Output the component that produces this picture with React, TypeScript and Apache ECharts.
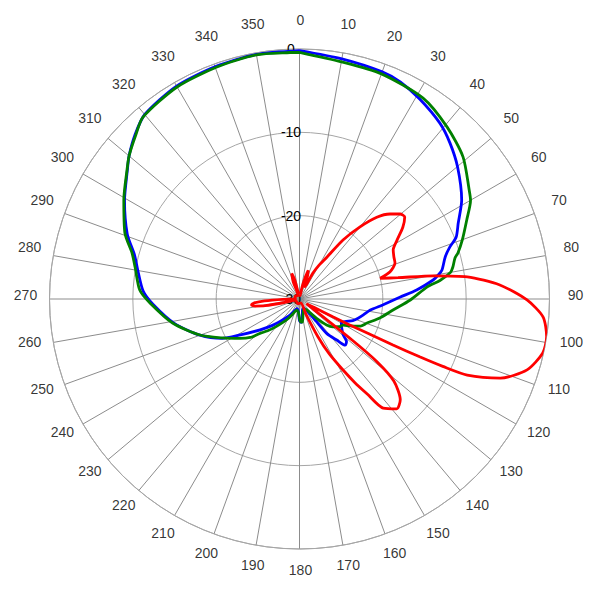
import React, { useEffect, useRef } from "react";
import * as echarts from "echarts";

// Angle axis (degrees, clockwise from top) and radial axis (dB)
const angleMin = 0;
const angleMax = 360;
const angleStep = 10;
const angleTickLabels = [0, 10, 20, 30, 40, 50, 60, 70, 80, 90, 100, 110, 120, 130, 140, 150, 160, 170, 180, 190, 200, 210, 220, 230, 240, 250, 260, 270, 280, 290, 300, 310, 320, 330, 340, 350];
const dbMin = -30;
const dbMax = 0;
const dbStep = 10;

// Blue trace
const blueAngles = [0, 10, 20, 25, 31, 38.6, 44, 50.2, 58.6, 64.5, 68.5, 70.9, 73.9, 78.5, 80.2, 81.9, 85.6, 88.9, 94.1, 98.9, 104, 108.2, 112, 116.5, 120, 125, 129.4, 132.1, 135.3, 137.8, 141.6, 143, 147, 155, 165, 172, 176, 180, 185, 195, 205, 212, 220, 226, 232, 238.8, 243, 250, 259, 268, 273, 280, 285, 290.7, 299.4, 306.8, 310, 315, 320, 330, 340, 350, 360];
const blueValues = [-0.2, -0.75, -1.0, -1.3, -2.0, -3.0, -4.0, -5.3, -7.2, -8.9, -9.8, -10.9, -11.8, -12.55, -13.1, -13.8, -15.9, -17.9, -20.0, -21.4, -22.1, -22.6, -23.1, -23.9, -24.2, -23.8, -23.2, -22.4, -22.2, -23.35, -24.7, -26.6, -28.2, -28.8, -28.6, -27.6, -27.2, -27.4, -28.5, -28.8, -28.3, -27.6, -26.6, -25.4, -24.0, -21.7, -19.6, -17.3, -14.7, -12.4, -11.2, -10.3, -9.5, -7.9, -5.9, -4.2, -3.3, -2.1, -1.1, -0.5, -0.35, -0.2, -0.2];

// Green trace
const greenAngles = [0, 10, 20, 31.6, 40.6, 49, 57.3, 60, 64.7, 70, 73.8, 75.2, 78.2, 80, 82.5, 84.6, 90.5, 96.7, 103.3, 109.6, 114, 117.9, 120.9, 125, 129.9, 133.7, 138.3, 143, 150, 160, 168, 173, 178, 185, 195, 203.4, 210, 215, 220.5, 225, 229, 232, 236.6, 243, 250.1, 259.3, 268.5, 273.2, 281, 285.4, 290.7, 299.4, 306.8, 310, 315, 319.3, 330, 340.4, 350, 357.8, 360];
const greenValues = [-0.4, -1.1, -1.25, -1.7, -2.8, -4.0, -5.8, -6.3, -7.8, -9.2, -10.2, -10.7, -11.2, -11.6, -13.0, -14.6, -16.7, -18.7, -20.1, -21.4, -22.0, -23.1, -23.9, -24.2, -24.8, -25.5, -26.9, -28.0, -28.6, -28.6, -28.0, -27.2, -27.3, -28.4, -28.6, -28.1, -27.3, -26.6, -25.6, -24.6, -23.7, -22.5, -21.4, -19.7, -17.3, -14.5, -12.05, -10.8, -9.9, -9.15, -7.6, -5.8, -4.15, -3.3, -2.2, -1.2, -0.62, -0.45, -0.25, -0.4, -0.4];

// Red trace
const redAngles = [0, 8, 12, 15, 17, 19, 22, 26, 27.4, 30, 33.2, 36.4, 40, 43.4, 46.8, 49.8, 52.1, 55.2, 58.8, 62.3, 66, 69.3, 73.3, 75.6, 77.8, 80.2, 82.5, 86, 90.25, 94.2, 98.7, 102.5, 107.3, 111.5, 114.4, 115.2, 115.7, 116.2, 116.7, 117.5, 118.2, 120, 124, 126, 128, 129, 131, 135, 138.5, 142.5, 144.5, 146.5, 148.5, 151.5, 154, 157, 162, 200, 255, 257, 259, 261, 263, 265, 267, 269, 271, 300, 337, 340, 343, 346, 349, 355, 360];
const redValues = [-29.5, -29.6, -28.5, -27.2, -26.4, -27.0, -28.5, -28.0, -26.5, -25.3, -24.0, -21.2, -18.7, -16.5, -15.1, -14.2, -14.0, -14.9, -16.3, -17.3, -17.6, -17.75, -18.65, -20.0, -17.9, -13.7, -9.7, -5.9, -2.7, -0.7, 0, -0.1, -1.4, -4.1, -7.9, -11.0, -14.0, -17.5, -20.9, -23.5, -25.4, -28.0, -29.0, -28.0, -22.0, -18.0, -15.0, -12.9, -12.4, -13.5, -16.0, -18.0, -20.0, -22.5, -25.0, -28.0, -29.5, -29.4, -29.5, -28.0, -25.8, -24.6, -24.2, -24.5, -25.8, -28.0, -29.5, -29.4, -29.5, -27.8, -26.8, -27.6, -29.3, -29.5, -29.5];

const zip = (angles: number[], values: number[]) =>
  angles.map((a, i) => [values[i], a]);

export default function App() {
  const ref = useRef<HTMLDivElement>(null);
  useEffect(() => {
    const chart = echarts.init(ref.current!, null, { renderer: "svg" });
    const font = "'Liberation Sans', Arial, sans-serif";
    const lineSeries = (name: string, color: string, data: number[][], z: number) => ({
      name,
      type: "line",
      coordinateSystem: "polar",
      polarIndex: 0,
      data,
      showSymbol: false,
      symbol: "none",
      smooth: 0.25,
      clip: false,
      z,
      lineStyle: { color, width: 2.8 },
    });
    chart.setOption({
      animation: false,
      backgroundColor: "#ffffff",
      polar: [
        { center: [299.5, 299], radius: 250 },
        // ring on which the angle tick labels are centred
        { center: [300.5, 294.5], radius: 275 },
      ],
      angleAxis: [
        {
          polarIndex: 0,
          type: "value",
          min: angleMin,
          max: angleMax,
          interval: angleStep,
          startAngle: 90,
          clockwise: true,
          axisLine: { show: true, lineStyle: { color: "#a6a6a6", width: 1 } },
          axisTick: { show: false },
          axisLabel: { show: false },
          splitLine: { show: true, lineStyle: { color: "#8c8c8c", width: 1 } },
        },
        {
          polarIndex: 1,
          type: "value",
          min: angleMin,
          max: angleMax,
          interval: angleStep,
          startAngle: 90,
          clockwise: true,
          axisLine: { show: false },
          axisTick: { show: false },
          axisLabel: { show: false },
          splitLine: { show: false },
        },
      ],
      radiusAxis: [
        {
          polarIndex: 0,
          type: "value",
          min: dbMin,
          max: dbMax,
          interval: dbStep,
          axisLine: { show: false },
          axisTick: { show: false },
          axisLabel: {
            show: true,
            margin: 8.5,
            align: "center",
            verticalAlign: "middle",
            color: "#000",
            fontSize: 14,
            fontFamily: font,
          },
          splitLine: { show: true, lineStyle: { color: "#a6a6a6", width: 1 } },
        },
        {
          polarIndex: 1,
          type: "value",
          min: 0,
          max: 1,
          axisLine: { show: false },
          axisTick: { show: false },
          axisLabel: { show: false },
          splitLine: { show: false },
        },
      ],
      series: [
        lineSeries("blue", "#0000ff", zip(blueAngles, blueValues), 2),
        lineSeries("green", "#008000", zip(greenAngles, greenValues), 3),
        lineSeries("red", "#ff0000", zip(redAngles, redValues), 4),
        {
          name: "angleLabels",
          type: "scatter",
          coordinateSystem: "polar",
          polarIndex: 1,
          data: angleTickLabels.map((a) => [1, a]),
          symbolSize: 1,
          itemStyle: { color: "rgba(0,0,0,0)" },
          silent: true,
          z: 5,
          label: {
            show: true,
            position: "inside",
            formatter: (p: any) => String(p.value[1]),
            color: "#000",
            textBorderWidth: 0,
            fontSize: 14,
            fontFamily: font,
          },
        },
      ],
    });
    return () => chart.dispose();
  }, []);
  return (
    <div
      ref={ref}
      style={{ position: "fixed", left: 0, top: 0, width: 600, height: 600 }}
    />
  );
}
